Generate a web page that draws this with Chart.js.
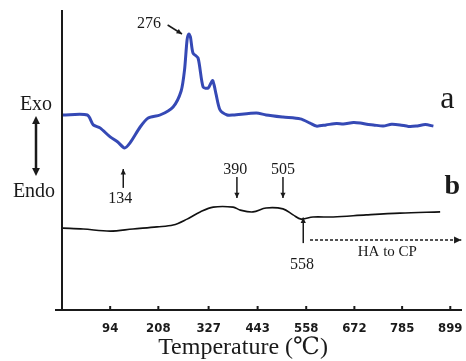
<!DOCTYPE html>
<html>
<head>
<meta charset="utf-8">
<script src="https://cdn.jsdelivr.net/npm/chart.js@4/dist/chart.umd.min.js"></script>
<style>
  html, body { margin: 0; padding: 0; background: #fff; }
  #wrap { width: 466px; height: 361px; }
</style>
</head>
<body>
<div id="wrap"><canvas id="dta"></canvas></div>
<script>
// temperature ticks (°C) as printed on the axis
const tickTemps = [94, 208, 327, 443, 558, 672, 785, 899];

// curve a (blue): temperature, signal (arb. units)
const tempA = [-18, 40, 54, 70, 94, 112, 128, 141, 165, 184, 212, 243, 262, 270, 276, 280, 284, 290, 302, 314, 326, 336, 340, 345, 354, 371, 385, 440, 463, 503, 544, 567, 582, 605, 630, 646, 670, 686, 705, 717, 740, 760, 780, 800, 818, 840, 859];
const sigA  = [65, 65, 61.7, 60.7, 57.7, 56, 54, 55.7, 61, 64, 65, 67.7, 73, 80, 90, 92, 91, 85.7, 84, 74.3, 74, 76.5, 75, 71.7, 66.7, 65, 65, 65.7, 65, 64.3, 63.7, 62.3, 61.3, 61.7, 62.2, 62, 62.5, 62.3, 61.8, 61.7, 61.3, 61.9, 61.7, 61.2, 61.3, 61.8, 61.3];

// curve b (black)
const tempB = [-18, 30, 94, 148, 205, 243, 276, 307, 338, 385, 402, 432, 463, 503, 527, 546, 574, 622, 700, 780, 875];
const sigB  = [27.3, 27, 26.3, 27, 27.7, 28.3, 30.3, 32.7, 34.3, 34.3, 33.3, 32.7, 34, 33.7, 31.7, 30.3, 31, 31, 31.7, 32.3, 32.7];

const serif = '"Liberation Serif", "DejaVu Serif", serif';
const ink = '#1a1a1a';

function arrowHead(ctx, x1, y1, x2, y2, size) {
  const a = Math.atan2(y2 - y1, x2 - x1);
  ctx.beginPath();
  ctx.moveTo(x2, y2);
  ctx.lineTo(x2 - size * Math.cos(a - 0.45), y2 - size * Math.sin(a - 0.45));
  ctx.lineTo(x2 - size * Math.cos(a + 0.45), y2 - size * Math.sin(a + 0.45));
  ctx.closePath();
  ctx.fill();
}

function arrow(ctx, x1, y1, x2, y2, size, dash) {
  ctx.save();
  if (dash) ctx.setLineDash(dash);
  ctx.beginPath();
  ctx.moveTo(x1, y1);
  ctx.lineTo(x2, y2);
  ctx.stroke();
  ctx.restore();
  arrowHead(ctx, x1, y1, x2, y2, size);
}

const decor = {
  id: 'decor',
  afterDraw(chart) {
    const { ctx, chartArea: ca, scales: { x, y } } = chart;
    const X = t => x.getPixelForValue(t);
    const Y = v => y.getPixelForValue(v);
    ctx.save();
    ctx.strokeStyle = ink;
    ctx.fillStyle = ink;

    // axes
    ctx.lineWidth = 2;
    ctx.beginPath();
    ctx.moveTo(ca.left, ca.top);
    ctx.lineTo(ca.left, ca.bottom);
    ctx.moveTo(ca.left - 7, ca.bottom);
    ctx.lineTo(ca.right + 2, ca.bottom);
    ctx.stroke();
    // inward ticks
    tickTemps.forEach(t => {
      ctx.beginPath();
      ctx.moveTo(X(t), ca.bottom);
      ctx.lineTo(X(t), ca.bottom - 4);
      ctx.stroke();
    });

    ctx.textAlign = 'center';
    ctx.textBaseline = 'middle';

    // Exo / Endo
    ctx.font = '20px ' + serif;
    ctx.fillText('Exo', ca.left - 26, 105);
    ctx.fillText('Endo', ca.left - 28, 192);
    ctx.lineWidth = 2.5;
    const ax = ca.left - 26;
    ctx.beginPath();
    ctx.moveTo(ax, 122);
    ctx.lineTo(ax, 170);
    ctx.stroke();
    arrowHead(ctx, ax, 170, ax, 116, 9);
    arrowHead(ctx, ax, 122, ax, 176, 9);

    // peak labels
    ctx.lineWidth = 1.5;
    ctx.font = '16px ' + serif;
    ctx.fillText('276', X(186), Y(95.3));
    arrow(ctx, X(230), Y(95), X(264), Y(92), 6);

    ctx.fillText('134', X(118), Y(37));
    arrow(ctx, X(125), Y(40.7), X(125), Y(47), 6);

    ctx.fillText('390', X(390), Y(46.7));
    arrow(ctx, X(394), Y(44.3), X(394), Y(37.3), 6);
    ctx.fillText('505', X(503), Y(46.7));
    arrow(ctx, X(503), Y(44.3), X(503), Y(37.3), 6);

    ctx.fillText('558', X(548), Y(15));
    arrow(ctx, X(551), Y(22.3), X(551), Y(30.8), 6);

    arrow(ctx, X(567), Y(23.3), X(925), Y(23.3), 8, [3, 2]);
    ctx.font = '15px ' + serif;
    ctx.fillText('HA to CP', X(750), Y(19.3));

    // curve names
    ctx.font = '32px ' + serif;
    ctx.fillText('a', X(892), Y(70));
    ctx.font = 'bold 28px ' + serif;
    ctx.fillText('b', X(904), Y(41));

    ctx.restore();
  }
};

new Chart(document.getElementById('dta'), {
  type: 'line',
  data: {
    datasets: [
      {
        data: tempA.map((t, i) => ({ x: t, y: sigA[i] })),
        borderColor: '#3549b5',
        borderWidth: 3,
        pointRadius: 0,
        tension: 0.25,
      },
      {
        data: tempB.map((t, i) => ({ x: t, y: sigB[i] })),
        borderColor: '#111',
        borderWidth: 1.6,
        pointRadius: 0,
        tension: 0.35,
      },
    ],
  },
  options: {
    responsive: true,
    maintainAspectRatio: false,
    animation: false,
    layout: { padding: { left: 62, top: 10, right: 6, bottom: 0 } },
    plugins: {
      legend: { display: false },
      tooltip: { enabled: false },
    },
    scales: {
      x: {
        type: 'linear',
        min: -20,
        max: 922,
        afterBuildTicks: s => { s.ticks = tickTemps.map(v => ({ value: v })); },
        // keep the plot box fixed: no extra side padding for labels, fixed axis height
        afterFit: s => { s.paddingLeft = 0; s.paddingRight = 0; s.height = 51; },
        ticks: {
          color: ink,
          padding: 11,
          maxRotation: 0,
          autoSkip: false,
          font: { family: '"Liberation Sans Narrow", "DejaVu Sans Condensed", sans-serif', size: 13, weight: 'bold' },
          callback: v => String(v),
        },
        grid: { display: false, drawTicks: false },
        border: { display: false },
        title: {
          display: true,
          text: 'Temperature (℃)      ',
          color: ink,
          padding: { top: 0, bottom: 0 },
          font: { family: '"Liberation Serif", "DejaVu Serif", serif', size: 24, lineHeight: 1.1 },
        },
      },
      y: {
        display: false,
        min: 0,
        max: 100,
      },
    },
  },
  plugins: [decor],
});
</script>
</body>
</html>
